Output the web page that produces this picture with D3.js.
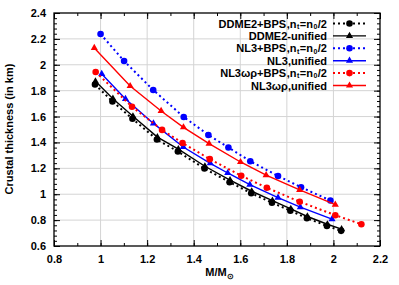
<!DOCTYPE html>
<html><head><meta charset="utf-8">
<script src="https://cdn.jsdelivr.net/npm/d3@7"></script>
<style>body{margin:0;background:#fff}svg text{font-family:"Liberation Sans",Arial,sans-serif;font-weight:bold}</style>
</head><body><svg id="c" width="399" height="285"></svg>
<script>
const xTicks=[0.8,1,1.2,1.4,1.6,1.8,2,2.2];
const yTicks=[0.6,0.8,1,1.2,1.4,1.6,1.8,2,2.2,2.4];

const ddme2BpsX=[0.976,1.051,1.137,1.242,1.332,1.446,1.554,1.647,1.736,1.815,1.886,1.972,2.033];
const ddme2BpsY=[1.848,1.717,1.583,1.423,1.330,1.199,1.093,1.008,0.935,0.873,0.815,0.755,0.717];
const ddme2UniX=[0.978,1.053,1.139,1.244,1.334,1.448,1.556,1.649,1.738,1.817,1.888,1.974,2.035];
const ddme2UniY=[1.872,1.738,1.602,1.441,1.348,1.216,1.109,1.023,0.950,0.887,0.828,0.768,0.730];
const nl3BpsX=[1.0,1.101,1.226,1.357,1.463,1.549,1.643,1.762,1.861,1.987];
const nl3BpsY=[2.238,2.029,1.805,1.597,1.458,1.361,1.255,1.141,1.054,0.951];
const nl3UniX=[1.005,1.107,1.227,1.355,1.471,1.546,1.641,1.762,1.858,1.994];
const nl3UniY=[1.929,1.736,1.547,1.365,1.239,1.164,1.074,0.974,0.900,0.807];
const nl3wrBpsX=[0.979,1.135,1.264,1.352,1.469,1.604,1.714,1.855,2.008,2.120];
const nl3wrBpsY=[1.944,1.676,1.497,1.396,1.271,1.143,1.050,0.942,0.838,0.768];
const nl3wrUniX=[0.973,1.127,1.260,1.356,1.466,1.601,1.711,1.855,2.008];
const nl3wrUniY=[2.130,1.836,1.643,1.517,1.391,1.249,1.147,1.033,0.920];

const series=[
 {name:"DDME2+BPS",sub:true,x:ddme2BpsX,y:ddme2BpsY,color:"#000",dot:true,mark:"circle"},
 {name:"DDME2-unified",sub:false,x:ddme2UniX,y:ddme2UniY,color:"#000",dot:false,mark:"tri"},
 {name:"NL3+BPS",sub:true,x:nl3BpsX,y:nl3BpsY,color:"#0000ff",dot:true,mark:"circle"},
 {name:"NL3,unified",sub:false,x:nl3UniX,y:nl3UniY,color:"#0000ff",dot:false,mark:"tri"},
 {name:"NL3ωρ+BPS",sub:true,x:nl3wrBpsX,y:nl3wrBpsY,color:"#ff0000",dot:true,mark:"circle"},
 {name:"NL3ωρ,unified",sub:false,x:nl3wrUniX,y:nl3wrUniY,color:"#ff0000",dot:false,mark:"tri"}
];

const svg=d3.select("#c");
const L=54,R=380,T=13,B=246;
const x=d3.scaleLinear().domain([0.8,2.2]).range([L,R]);
const y=d3.scaleLinear().domain([0.6,2.4]).range([B,T]);

// grid
const g=svg.append("g");
g.selectAll(".gx").data(xTicks.slice(1,-1)).enter().append("line")
 .attr("x1",d=>x(d)).attr("x2",d=>x(d)).attr("y1",T).attr("y2",B).attr("stroke","#d4d4d4").attr("stroke-width",1);
g.selectAll(".gy").data(yTicks.slice(1,-1)).enter().append("line")
 .attr("y1",d=>y(d)).attr("y2",d=>y(d)).attr("x1",L).attr("x2",R).attr("stroke","#d4d4d4").attr("stroke-width",1);

// axes
const xMinor=d3.range(0.8,2.2001,0.1);
const yMinor=d3.range(0.6,2.4001,0.04);
function axisG(ax,tr){const a=svg.append("g").attr("transform",tr).call(ax);a.select(".domain").remove();a.selectAll("line").attr("stroke","#000");return a;}
const fmt=d=>d3.format("")(+d.toFixed(2));
axisG(d3.axisBottom(x).tickValues(xMinor).tickSize(-3).tickFormat(""),`translate(0,${B})`);
axisG(d3.axisTop(x).tickValues(xMinor).tickSize(-3).tickFormat(""),`translate(0,${T})`);
axisG(d3.axisLeft(y).tickValues(yMinor).tickSize(-3).tickFormat(""),`translate(${L},0)`);
axisG(d3.axisRight(y).tickValues(yMinor).tickSize(-3).tickFormat(""),`translate(${R},0)`);
axisG(d3.axisBottom(x).tickValues(xTicks).tickSize(-6).tickPadding(9).tickFormat(fmt),`translate(0,${B})`);
axisG(d3.axisTop(x).tickValues(xTicks).tickSize(-6).tickFormat(""),`translate(0,${T})`);
axisG(d3.axisLeft(y).tickValues(yTicks).tickSize(-6).tickPadding(8).tickFormat(fmt),`translate(${L},0)`);
axisG(d3.axisRight(y).tickValues(yTicks).tickSize(-6).tickFormat(""),`translate(${R},0)`);
svg.selectAll(".tick text").attr("font-size",11).attr("font-weight","bold").attr("fill","#000")
 .style("font-family","'Liberation Sans',Arial,sans-serif");

svg.append("rect").attr("x",L).attr("y",T).attr("width",R-L).attr("height",B-T)
 .attr("fill","none").attr("stroke","#000").attr("stroke-width",1.3);

// series
const line=d3.line().x(d=>x(d[0])).y(d=>y(d[1]));
const tri=d3.symbol().type(d3.symbolTriangle).size(22);
function drawMark(sel,s,px,py){
 if(s.mark==="circle") sel.append("circle").attr("cx",px).attr("cy",py).attr("r",3.3).attr("fill",s.color);
 else sel.append("path").attr("d",tri()).attr("transform",`translate(${px},${py})`).attr("fill",s.color);
}
const plot=svg.append("g");
series.forEach(s=>{
 const pts=s.x.map((v,i)=>[v,s.y[i]]);
 plot.append("path").datum(pts).attr("d",line).attr("fill","none").attr("stroke",s.color)
  .attr("stroke-width",s.dot?2:1.4).attr("stroke-dasharray",s.dot?"2,3":null);
 pts.forEach(p=>drawMark(plot,s,x(p[0]),y(p[1])));
});

// legend: label pieces laid out right-to-left as separate texts
const lg=svg.append("g");
series.forEach((s,i)=>{
 const yy=23.5+i*12.4;
 const pieces=[{t:s.name,fs:11,dy:0}];
 if(s.sub){
  pieces.push({t:",n",fs:11,dy:0},{t:"t",fs:7,dy:1.2},{t:"=n",fs:11,dy:0},{t:"0",fs:7,dy:1.2},{t:"/2",fs:11,dy:0});
 }
 let xr=327;
 for(let k=pieces.length-1;k>=0;k--){
  const p=pieces[k];
  const t=lg.append("text").attr("x",xr).attr("y",yy+4+p.dy).attr("text-anchor","end")
   .attr("font-size",p.fs).attr("fill","#000").text(p.t);
  xr-=t.node().getComputedTextLength()+0.5;
 }
 lg.append("line").attr("x1",333).attr("x2",366).attr("y1",yy).attr("y2",yy).attr("stroke",s.color)
  .attr("stroke-width",s.dot?2:1.4).attr("stroke-dasharray",s.dot?"2,3":null);
 drawMark(lg,s,349.5,yy);
});

// axis titles
svg.append("text").attr("transform","translate(13,129) rotate(-90)").attr("text-anchor","middle")
 .attr("font-size",11).attr("fill","#000").text("Crustal thickness (in km)");
const xm=svg.append("text").attr("x",216).attr("y",276).attr("text-anchor","middle").attr("font-size",11).attr("fill","#000").text("M/M");
const xw=xm.node().getComputedTextLength();
svg.append("text").attr("x",216+xw/2+0.5).attr("y",279).attr("font-size",7.5).attr("fill","#000").text("⊙");
</script></body></html>
